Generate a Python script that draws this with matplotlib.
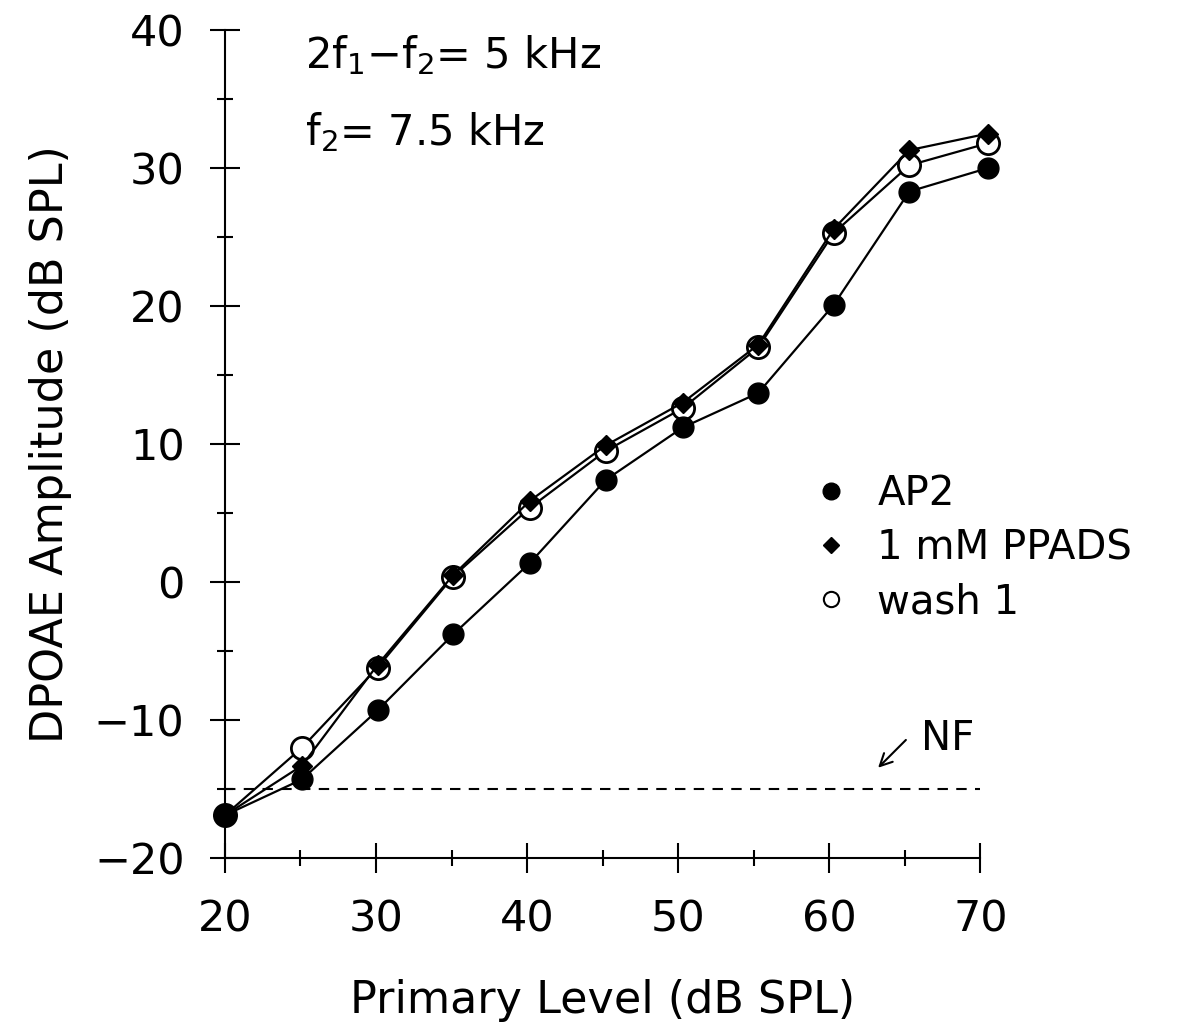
import matplotlib
matplotlib.use("Agg")
import matplotlib.pyplot as plt
from matplotlib.lines import Line2D
from matplotlib.ticker import MultipleLocator

# primary level (dB SPL) and DPOAE amplitude (dB SPL)
levels = [20, 25.1, 30.1, 35.1, 40.2, 45.2, 50.3, 55.3, 60.3, 65.3, 70.5]
ap2 = [-16.9, -14.3, -9.3, -3.8, 1.4, 7.4, 11.2, 13.7, 20.1, 28.3, 30.0]
ppads = [-16.9, -13.3, -6.0, 0.5, 5.9, 9.9, 13.0, 17.2, 25.6, 31.3, 32.5]
wash1 = [-16.9, -12.0, -6.2, 0.4, 5.4, 9.5, 12.6, 17.0, 25.3, 30.2, 31.8]
noise_floor = -15

plt.rcParams['font.family'] = ['DejaVu Sans']
plt.rcParams['mathtext.fontset'] = 'dejavusans'

fig = plt.figure(figsize=(12.01, 10.26), dpi=100)
ax = fig.add_axes([0.1873, 0.1637, 0.629, 0.807])

ax.plot(levels, wash1, color='black', lw=1.6, marker='o', ms=16,
        mfc='white', mec='black', mew=2, zorder=3, clip_on=False)
ax.plot(levels, ppads, color='black', lw=1.6, marker='D', ms=10,
        mfc='black', mec='black', zorder=4, clip_on=False)
ax.plot(levels, ap2, color='black', lw=1.6, marker='o', ms=15,
        mfc='black', mec='black', zorder=3, clip_on=False)

ax.plot([20, 70], [noise_floor, noise_floor], color='black', lw=1.5,
        ls=(0, (5, 4)), zorder=2)
ax.annotate('', xy=(63.1, -13.6), xytext=(65.2, -11.3),
            arrowprops=dict(arrowstyle='->', color='black', lw=1.5,
                            mutation_scale=22))
ax.text(66.1, -11.4, 'NF', fontsize=29, va='center', ha='left')

ax.text(25.3, 38.2, r'2f$_\mathregular{1}$$-$f$_\mathregular{2}$= 5 kHz',
        fontsize=30, va='center', ha='left')
ax.text(25.3, 32.6, r'f$_\mathregular{2}$= 7.5 kHz',
        fontsize=30, va='center', ha='left')

handles = [
    Line2D([], [], ls='none', marker='o', ms=12, mfc='black', mec='black'),
    Line2D([], [], ls='none', marker='D', ms=8, mfc='black', mec='black'),
    Line2D([], [], ls='none', marker='o', ms=11, mfc='white', mec='black', mew=1.5),
]
ax.legend(handles, ['AP2', '1 mM PPADS', 'wash 1'], loc='upper left',
          bbox_to_anchor=(0.765, 0.483), frameon=False, fontsize=29,
          handlelength=0.6, handletextpad=0.85, labelspacing=0.35,
          borderaxespad=0)

ax.set_xlim(20, 70)
ax.set_ylim(-20, 40)
ax.xaxis.set_major_locator(MultipleLocator(10))
ax.xaxis.set_minor_locator(MultipleLocator(5))
ax.yaxis.set_major_locator(MultipleLocator(10))
ax.yaxis.set_minor_locator(MultipleLocator(5))
ax.tick_params(which='major', direction='inout', length=22, width=1.5,
               labelsize=31)
ax.tick_params(which='minor', direction='inout', length=12, width=1.5)
ax.tick_params(axis='x', which='major', pad=18)
ax.tick_params(axis='y', which='major', pad=18)

for side in ['top', 'right']:
    ax.spines[side].set_visible(False)
for side in ['left', 'bottom']:
    ax.spines[side].set_linewidth(1.5)

ax.set_xlabel('Primary Level (dB SPL)', fontsize=32, labelpad=28)
ax.set_ylabel('DPOAE Amplitude (dB SPL)', fontsize=32, labelpad=16)

fig.savefig('out.png', dpi=100)
